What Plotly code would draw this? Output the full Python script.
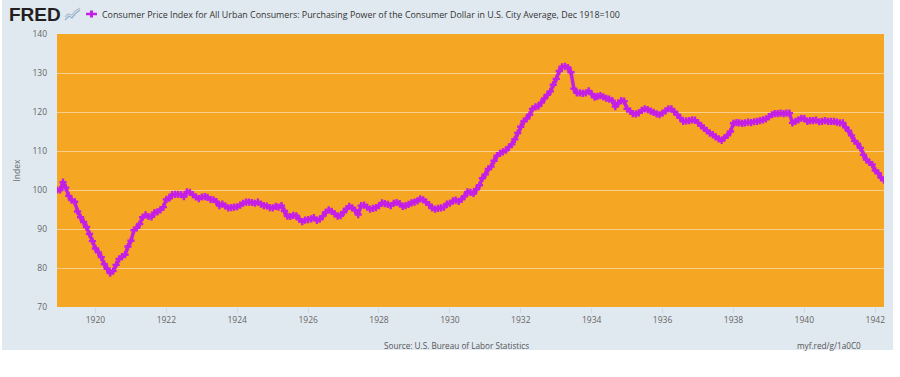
import pandas as pd
import plotly.graph_objects as go

# Purchasing power of the consumer dollar, index Dec 1918 = 100 (monthly)
pp_1918 = [100.0]
pp_1919 = [100.0, 102.0, 100.6, 98.5, 97.4, 97.0, 94.5, 93.0, 91.8, 90.5, 88.7, 86.9]
pp_1920 = [85.0, 84.0, 82.8, 81.0, 79.8, 78.7, 79.2, 80.8, 82.3, 82.9, 83.4, 85.5]
pp_1921 = [87.0, 89.7, 90.3, 91.3, 93.0, 93.6, 93.2, 93.1, 94.2, 94.4, 94.9, 95.6]
pp_1922 = [97.6, 97.9, 98.8, 98.9, 98.9, 98.8, 98.3, 99.5, 99.4, 98.8, 98.2, 97.8]
pp_1923 = [98.2, 98.3, 98.1, 97.6, 97.5, 97.0, 96.0, 96.4, 95.9, 95.4, 95.5, 95.6]
pp_1924 = [95.7, 96.1, 96.6, 96.9, 96.9, 96.8, 96.6, 96.9, 96.4, 96.0, 95.9, 95.5]
pp_1925 = [95.4, 95.8, 95.6, 96.0, 94.6, 93.3, 93.2, 93.5, 93.4, 92.5, 91.9, 92.3]
pp_1926 = [92.4, 92.6, 92.9, 92.2, 92.5, 93.3, 94.3, 94.9, 94.5, 93.9, 93.3, 93.4]
pp_1927 = [94.3, 95.2, 95.8, 95.4, 94.8, 93.7, 96.0, 96.1, 95.6, 95.1, 95.3, 95.5]
pp_1928 = [96.0, 96.7, 96.5, 96.3, 96.0, 96.6, 96.8, 96.5, 95.8, 96.0, 96.3, 96.7]
pp_1929 = [96.9, 97.2, 97.7, 97.5, 96.9, 96.2, 95.4, 95.1, 95.3, 95.4, 95.6, 96.4]
pp_1930 = [96.6, 97.2, 97.4, 97.1, 97.6, 98.4, 99.5, 99.4, 99.1, 100.2, 101.2, 103.0]
pp_1931 = [104.0, 105.4, 106.0, 107.5, 108.8, 109.4, 109.8, 110.2, 111.0, 111.7, 113.0, 114.6]
pp_1932 = [116.2, 117.6, 118.3, 119.3, 120.8, 121.3, 121.5, 122.4, 123.5, 124.4, 125.3, 127.0]
pp_1933 = [128.5, 130.5, 131.6, 131.7, 131.4, 130.2, 126.0, 124.9, 124.9, 124.8, 124.9, 125.4]
pp_1934 = [124.6, 123.8, 124.0, 124.2, 123.9, 123.5, 123.3, 122.9, 121.4, 122.3, 122.9, 122.8]
pp_1935 = [120.8, 120.2, 119.6, 119.5, 119.8, 120.4, 120.8, 120.6, 120.2, 119.9, 119.5, 119.3]
pp_1936 = [119.7, 120.3, 120.8, 120.8, 120.1, 119.3, 118.5, 117.6, 117.7, 117.8, 118.0, 117.9]
pp_1937 = [117.2, 116.5, 115.9, 115.2, 114.6, 114.2, 113.6, 113.1, 112.7, 113.4, 114.0, 115.0]
pp_1938 = [117.1, 117.3, 117.2, 117.1, 117.2, 117.4, 117.3, 117.5, 117.6, 117.8, 118.0, 118.2]
pp_1939 = [118.8, 119.3, 119.6, 119.6, 119.7, 119.6, 119.7, 119.7, 117.2, 117.6, 118.0, 118.4]
pp_1940 = [118.3, 117.6, 117.8, 117.8, 117.9, 117.5, 117.6, 117.8, 117.6, 117.6, 117.6, 117.4]
pp_1941 = [117.2, 117.2, 116.1, 115.2, 114.0, 112.6, 111.9, 110.8, 109.0, 107.8, 107.1, 106.5]
pp_1942 = [105.0, 104.3, 103.2, 102.5]

values = (pp_1918 + pp_1919 + pp_1920 + pp_1921 + pp_1922 + pp_1923 + pp_1924 + pp_1925
          + pp_1926 + pp_1927 + pp_1928 + pp_1929 + pp_1930 + pp_1931 + pp_1932 + pp_1933
          + pp_1934 + pp_1935 + pp_1936 + pp_1937 + pp_1938 + pp_1939 + pp_1940 + pp_1941 + pp_1942)
dates = pd.date_range("1918-12-01", periods=len(values), freq="MS")

series_name = ("Consumer Price Index for All Urban Consumers: Purchasing Power of the "
               "Consumer Dollar in U.S. City Average, Dec 1918=100")
y_title = "Index"
source_text = "Source: U.S. Bureau of Labor Statistics"
link_text = "myf.red/g/1a0C0"

W, H = 900, 377
ML, MR, MT, MB = 57, 16, 34, 70
PW, PH = W - ML - MR, H - MT - MB

def xp(px):
    return (px - ML) / PW

def yp(py):
    return (H - MB - py) / PH

LINE = "#c41fe6"
FONT = "Open Sans, sans-serif"

fig = go.Figure()
fig.add_trace(go.Scatter(
    x=dates, y=values, mode="lines+markers", name=series_name,
    line=dict(color=LINE, width=3.5),
    marker=dict(symbol="cross", size=6, color=LINE),
    showlegend=False,
))

shapes = [
    # white strips outside the grey FRED panel
    dict(type="rect", xref="paper", yref="paper", x0=xp(0), x1=xp(W), y0=yp(H), y1=yp(350),
         fillcolor="white", line_width=0, layer="below"),
    dict(type="rect", xref="paper", yref="paper", x0=xp(893), x1=xp(W), y0=yp(H), y1=yp(0),
         fillcolor="white", line_width=0, layer="below"),
    dict(type="rect", xref="paper", yref="paper", x0=xp(0), x1=xp(2), y0=yp(H), y1=yp(0),
         fillcolor="white", line_width=0, layer="below"),
    # legend glyph
    dict(type="line", xref="paper", yref="paper", x0=xp(86), x1=xp(97), y0=yp(14), y1=yp(14),
         line=dict(color=LINE, width=2.5)),
    dict(type="line", xref="paper", yref="paper", x0=xp(91.5), x1=xp(91.5), y0=yp(10.5), y1=yp(17.5),
         line=dict(color=LINE, width=3)),
]
# small FRED chart icon
icon1 = [(65, 20), (69, 16), (72, 18), (76, 13), (80, 10)]
icon2 = [(65, 17), (68, 14), (72, 15), (75, 11), (80, 8)]
for pts, col in ((icon1, "#8fb0cf"), (icon2, "#b5bfc7")):
    path = "M " + " L ".join(f"{xp(a):.5f},{yp(b):.5f}" for a, b in pts)
    shapes.append(dict(type="path", xref="paper", yref="paper", path=path,
                       line=dict(color=col, width=1.2)))

annotations = [
    dict(text="<b>FRED</b>", xref="paper", yref="paper", x=xp(7), y=yp(14),
         xanchor="left", yanchor="middle", showarrow=False,
         font=dict(family="Liberation Sans, Arial, sans-serif", size=19, color="#231f20")),
    dict(text=series_name, xref="paper", yref="paper", x=xp(100), y=yp(14),
         xanchor="left", yanchor="middle", showarrow=False,
         font=dict(family=FONT, size=8.9, color="#333333")),
    dict(text=source_text, xref="paper", yref="paper", x=xp(456), y=yp(345),
         xanchor="center", yanchor="middle", showarrow=False,
         font=dict(family=FONT, size=8.2, color="#555555")),
    dict(text=link_text, xref="paper", yref="paper", x=xp(795), y=yp(345),
         xanchor="left", yanchor="middle", showarrow=False,
         font=dict(family=FONT, size=8.2, color="#555555")),
]

fig.update_layout(
    width=W, height=H,
    margin=dict(l=ML, r=MR, t=MT, b=MB, pad=0),
    paper_bgcolor="#e1e9f0",
    plot_bgcolor="#f5a623",
    font=dict(family=FONT, size=8.5, color="#666666"),
    shapes=shapes,
    annotations=annotations,
    xaxis=dict(
        type="date",
        range=[dates[0], dates[-1]],
        tick0="1920-01-01", dtick="M24", tickformat="%Y",
        showgrid=False, zeroline=False, showline=False,
        ticks="outside", ticklen=5, tickcolor="#d0d9e2", tickwidth=1,
        tickfont=dict(family=FONT, size=8.5, color="#666666"),
    ),
    yaxis=dict(
        range=[70, 140], dtick=10, tick0=70,
        showgrid=True, gridcolor="#f8cf8e", gridwidth=1,
        zeroline=False, showline=False, ticks="",
        ticklabelstandoff=9,
        tickfont=dict(family=FONT, size=8.5, color="#666666"),
        title=dict(text=y_title, standoff=10, font=dict(family=FONT, size=8.5, color="#666666")),
    ),
)

fig.write_html("out.html", config={"displayModeBar": False},
               post_script="document.body.style.margin='0';")
